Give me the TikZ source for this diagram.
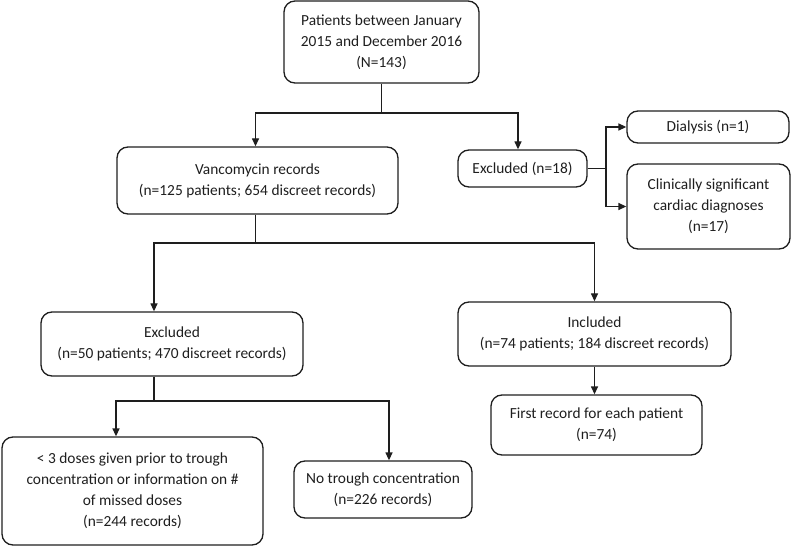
\documentclass[tikz,border=0pt]{standalone}
\usepackage{fontspec}
\setmainfont{Carlito}
\usetikzlibrary{arrows.meta,calc}
\definecolor{ink}{HTML}{1E1E1E}
\begin{document}
\begin{tikzpicture}[x=1bp,y=-1bp,
  box/.style={draw=ink,line width=1.3bp,rounded corners=11bp,align=center,
    inner sep=0pt,text=ink,font=\fontsize{15.4bp}{21bp}\selectfont},
  conn/.style={draw=ink,line width=1.3bp},
  arr/.style={conn,-{Triangle[length=8bp,width=7bp]}}]
\useasboundingbox (0,0) rectangle (792,546);
\node[box,minimum width=195bp,minimum height=82bp] (top) at (381.5,42) {Patients between January\\2015 and December 2016\\(N=143)};
\node[box,minimum width=281bp,minimum height=67bp] (vanc) at (257.5,180.5) {Vancomycin records\\(n=125 patients; 654 discreet records)};
\node[box,minimum width=129bp,minimum height=37bp] (exc18) at (522.5,168.5) {Excluded (n=18)};
\node[box,minimum width=162bp,minimum height=32bp] (dial) at (708,127) {Dialysis (n=1)};
\node[box,minimum width=163bp,minimum height=85bp] (clin) at (708.5,206.5) {Clinically significant\\cardiac diagnoses\\(n=17)};
\node[box,minimum width=262bp,minimum height=64bp] (exc50) at (172,344) {Excluded\\(n=50 patients; 470 discreet records)};
\node[box,minimum width=273bp,minimum height=64bp] (incl) at (594.5,334) {Included\\(n=74 patients; 184 discreet records)};
\node[box,minimum width=211bp,minimum height=60bp] (first) at (596.5,425) {First record for each patient\\(n=74)};
\node[box,minimum width=261bp,minimum height=108bp] (leftb) at (132.5,491) {< 3 doses given prior to trough\\concentration or information on \#\\of missed doses\\(n=244 records)};
\node[box,minimum width=178bp,minimum height=57bp] (notr) at (383,489.5) {No trough concentration\\(n=226 records)};
% connectors
\draw[conn] (top.south) -- (top.south |- 0,113) coordinate (j1);
\draw[arr] (j1) -| ([xshift=-2bp]vanc.north);
\draw[arr] (j1) -| ([xshift=-4.5bp]exc18.north);
\draw[conn] (exc18.east) -- (606,168.5) coordinate (j2);
\draw[arr] (j2) |- (dial.west);
\draw[arr] (j2) |- (clin.west);
\draw[conn] ([xshift=-2bp]vanc.south) -- ([xshift=-2bp]vanc.south |- 0,243) coordinate (j3);
\draw[arr] (j3) -| ([xshift=-18bp]exc50.north);
\draw[arr] (j3) -| (incl.north);
\draw[arr] (incl.south) -- (incl.south |- first.north);
\draw[conn] ([xshift=-18bp]exc50.south) -- ([xshift=-18bp]exc50.south |- 0,401) coordinate (j4);
\draw[arr] (j4) -| ([xshift=-16.5bp]leftb.north);
\draw[arr] (j4) -| ([xshift=6bp]notr.north);
\end{tikzpicture}
\end{document}
